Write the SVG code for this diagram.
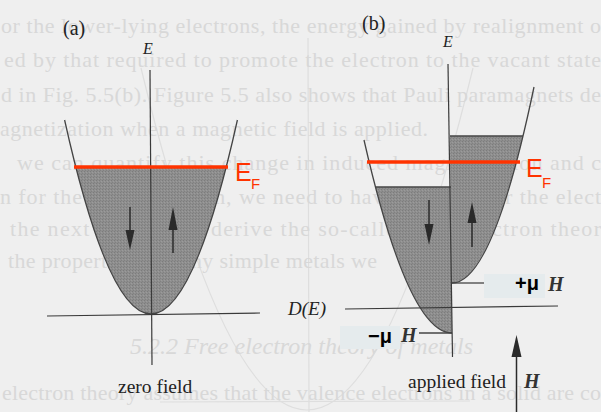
<svg xmlns="http://www.w3.org/2000/svg" width="601" height="412" viewBox="0 0 601 412">
<style>
.bg{font-family:"Liberation Serif",serif;font-size:22px;fill:#d8d8d8}
.ser{font-family:"Liberation Serif",serif;fill:#222}
.it{font-style:italic}
.sans{font-family:"Liberation Sans",sans-serif}
.red{fill:#ff3300}
.ax{stroke:#3a3a3a;stroke-width:1.2;fill:none}
.cur{stroke:#444;stroke-width:1.3;fill:none}
.ef{stroke:#ff3300;stroke-width:3.5}
.arr{stroke:#2a2a2a;stroke-width:1.5}
.ah{fill:#2a2a2a}
.box{fill:#e5ebed}
.mu{font-family:"Liberation Sans",sans-serif;font-weight:bold;font-size:20px;fill:#000}
.hh{font-family:"Liberation Serif",serif;font-style:italic;font-weight:bold;font-size:20px;fill:#333}
</style>
<defs>
<pattern id="stip" width="3" height="3" patternUnits="userSpaceOnUse">
<rect width="3" height="3" fill="#8e8e8e"/>
<rect x="0" y="0" width="1" height="1" fill="#7c7c7c"/>
<rect x="2" y="1" width="1" height="1" fill="#9b9b9b"/>
<rect x="1" y="2" width="1" height="1" fill="#818181"/>
</pattern>
</defs>
<rect width="601" height="412" fill="#efefef"/>
<g id="bleed" stroke="#dedede" stroke-width="1.2" fill="none">
<path d="M141,68 Q307,752 473,68"/>
<line x1="308" y1="38" x2="309" y2="412"/>
<line x1="160" y1="402" x2="470" y2="401"/>
</g>
<g id="page-text" class="bg">
<text x="1" y="33" textLength="600" lengthAdjust="spacing">or the lower-lying electrons, the energy gained by realignment o</text>
<text x="4" y="67" textLength="597" lengthAdjust="spacing">ed by that required to promote the electron to the vacant state</text>
<text x="1" y="102" textLength="600" lengthAdjust="spacing">d in Fig. 5.5(b). Figure 5.5 also shows that Pauli paramagnets de</text>
<text x="0" y="136" textLength="428" lengthAdjust="spacing">agnetization when a magnetic field is applied.</text>
<text x="17" y="170" textLength="584" lengthAdjust="spacing">we can quantify this change in induced magnetization and c</text>
<text x="0" y="204" textLength="601" lengthAdjust="spacing">n for the magnetization, we need to have a model for the elect</text>
<text x="10" y="236" textLength="591" lengthAdjust="spacing">the next section we derive the so-called free electron theor</text>
<text x="8" y="268" textLength="369" lengthAdjust="spacing">the properties of many simple metals we</text>
<text x="130" y="354" textLength="343" lengthAdjust="spacing" font-style="italic" font-size="24">5.2.2 Free electron theory of metals</text>
<text x="2" y="400" textLength="599" lengthAdjust="spacing">electron theory assumes that the valence electrons in a solid are co</text>
</g>
<g id="panel-a">
<path d="M75.8,167 Q151,461 226.2,167 Z" fill="url(#stip)"/>
<path class="cur" d="M64.6,120 Q151,508 237.4,120"/>
<line class="ax" x1="150" y1="70" x2="152" y2="365"/>
<line class="ax" x1="47" y1="316" x2="260" y2="313"/>
<line class="ef" x1="74" y1="167" x2="228" y2="167"/>
<text class="ser" x="63" y="35" font-size="20">(a)</text>
<text class="ser it" x="143" y="54" font-size="16">E</text>
<text class="sans red" x="235" y="181" font-size="25">E</text>
<text class="sans red" x="251" y="189" font-size="15">F</text>
<text class="ser" x="118" y="393" font-size="19.5">zero field</text>
</g>
<g id="panel-b">
<path d="M451,283 Q487,283 523,136 L450,136 Z" fill="url(#stip)"/>
<path d="M452,333 Q414,333 375.5,187 L451,187 Z" fill="url(#stip)"/>
<path class="cur" d="M452,283 Q493,283 534,87"/>
<path class="cur" d="M452,333 Q408,333 364,140"/>
<line class="cur" x1="450" y1="136" x2="523" y2="136"/>
<line class="cur" x1="376" y1="187" x2="451" y2="187"/>
<line class="ax" x1="448" y1="64" x2="452.5" y2="357"/>
<line class="ax" x1="345" y1="309" x2="558" y2="306"/>
<line class="cur" x1="452" y1="283" x2="484" y2="283"/>
<line class="cur" x1="419" y1="333" x2="452" y2="333"/>
<line class="ef" x1="367" y1="162" x2="520" y2="162"/>
<text class="ser" x="362" y="30" font-size="20">(b)</text>
<text class="ser it" x="443" y="47" font-size="16">E</text>
<text class="sans red" x="526" y="177" font-size="25">E</text>
<text class="sans red" x="542" y="188" font-size="15">F</text>
<text class="ser it" x="288" y="315" font-size="19">D(E)</text>
<rect class="box" x="484" y="274" width="61" height="24"/>
<text class="mu" x="515" y="290">+μ</text>
<text class="hh" x="548" y="291">H</text>
<rect class="box" x="340" y="326" width="60" height="23"/>
<text class="mu" x="368" y="343">−μ</text>
<text class="hh" x="401" y="342">H</text>
<text class="ser" x="408" y="388" font-size="19.5">applied field</text>
<text class="hh" x="524" y="388">H</text>
</g>
<g id="connectors">
<line class="arr" x1="130" y1="207" x2="130" y2="232"/>
<polygon class="ah" points="125.5,230 134.5,230 130,250"/>
<line class="arr" x1="173" y1="228" x2="173" y2="253"/>
<polygon class="ah" points="168.5,230 177.5,230 173,207"/>
<line class="arr" x1="429" y1="200" x2="429" y2="226"/>
<polygon class="ah" points="424.5,224 433.5,224 429,245"/>
<line class="arr" x1="472" y1="220" x2="472" y2="247"/>
<polygon class="ah" points="467.5,223 476.5,223 472,202"/>
<line class="arr" x1="516.5" y1="352" x2="516.5" y2="412" stroke-width="2"/>
<polygon class="ah" points="511.5,357 521.5,357 516.5,335"/>
</g>
</svg>
